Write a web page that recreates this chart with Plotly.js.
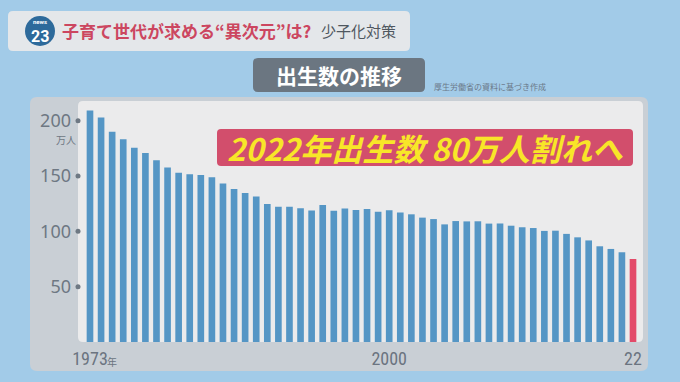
<!DOCTYPE html>
<html>
<head>
<meta charset="utf-8">
<script src="https://cdn.plot.ly/plotly-3.0.1.min.js"></script>
<style>html,body{margin:0;padding:0;background:#a2cbe8;}#chart{width:680px;height:382px;}
.xtick text{font-stretch:condensed;}</style>
</head>
<body>
<div id="chart"></div>
<script>
// ---- data ----
const years = [1973,1974,1975,1976,1977,1978,1979,1980,1981,1982,1983,1984,1985,1986,1987,1988,1989,1990,1991,1992,1993,1994,1995,1996,1997,1998,1999,2000,2001,2002,2003,2004,2005,2006,2007,2008,2009,2010,2011,2012,2013,2014,2015,2016,2017,2018,2019,2020,2021,2022];
const births = [209.2,203.0,190.1,183.3,175.5,170.9,164.3,157.7,152.9,151.5,150.9,149.0,143.2,138.3,134.7,131.4,124.7,122.2,122.3,120.9,118.8,123.8,118.7,120.7,119.2,120.3,117.8,119.1,117.1,115.4,112.4,111.1,106.3,109.3,109.0,109.1,107.0,107.1,105.1,103.7,103.0,100.4,100.6,97.7,94.6,91.8,86.5,84.1,81.1,75.0];
const yTickVals = [50,100,150,200];
const yTickText = ['50','100','150','200'];
const xTickVals = [1973,2000,2022];
const xTickText = ['1973','2000','22'];

// ---- geometry helpers ----
const W = 680, H = 382;
const M = {l:78, r:37, t:101, b:40};
const PW = W - M.l - M.r, PH = H - M.t - M.b;
const px = x => (x - M.l) / PW;
const py = y => (H - M.b - y) / PH;
function rr(x0,y0,x1,y1,r){
  const P=(x,y)=>px(x).toFixed(5)+','+py(y).toFixed(5);
  return 'M'+P(x0+r,y0)+' L'+P(x1-r,y0)+' Q'+P(x1,y0)+' '+P(x1,y0+r)+
    ' L'+P(x1,y1-r)+' Q'+P(x1,y1)+' '+P(x1-r,y1)+
    ' L'+P(x0+r,y1)+' Q'+P(x0,y1)+' '+P(x0,y1-r)+
    ' L'+P(x0,y0+r)+' Q'+P(x0,y0)+' '+P(x0+r,y0)+' Z';
}
function box(x0,y0,x1,y1,r,fill,layer){
  return {type:'path', xref:'paper', yref:'paper', path:rr(x0,y0,x1,y1,r), fillcolor:fill, line:{width:0}, layer:layer||'below'};
}
const JP = 'Noto Sans CJK JP, Noto Sans, sans-serif';
function txt(x,y,text,size,color,opts){
  return Object.assign({xref:'paper', yref:'paper', x:px(x), y:py(y), text:text, showarrow:false,
    font:{size:size, color:color, family:JP}, xanchor:'center', yanchor:'middle'}, opts||{});
}

const xLeft = 1973 - 12/11.09;
const barColors = years.map((y,i)=> i===years.length-1 ? '#e34a69' : '#5596c5');

const traces = [
  {type:'bar', x:years, y:births, marker:{color:barColors, line:{width:0}}, hoverinfo:'x+y'},
  {type:'scatter', mode:'markers', x:yTickVals.map(()=>xLeft), y:yTickVals, cliponaxis:false,
   marker:{size:5, color:'#6e7883'}, hoverinfo:'skip'}
];

const layout = {
  width:W, height:H, margin:M,
  paper_bgcolor:'#a2cbe8', plot_bgcolor:'rgba(0,0,0,0)',
  showlegend:false, bargap:0.4,
  xaxis:{range:[xLeft, 2022 + 10/11.09], tickvals:xTickVals, ticktext:xTickText, showgrid:false, zeroline:false,
    showline:false, ticks:'', ticklabelstandoff:4,
    tickfont:{family:'Liberation Sans Narrow, Roboto Condensed, Roboto, sans-serif', size:18, color:'#6b7480'}},
  yaxis:{range:[0, (H-M.b-M.t)/1.1065], tickvals:yTickVals, ticktext:yTickText, showgrid:false, zeroline:false,
    showline:false, ticks:'', ticklabelstandoff:6,
    tickfont:{family:'Noto Sans, sans-serif', size:18, color:'#6e7883'}},
  shapes:[
    box(30,97,648,371,7,'#c9cfd5'),
    box(78,101,643,342,5,'#ebebec'),
    box(8,11,410,51,5,'#e4e7ea'),
    {type:'circle', xref:'paper', yref:'paper', x0:px(25), x1:px(55), y0:py(46), y1:py(16), fillcolor:'#2d6a9b', line:{width:0}, layer:'below'},
    box(253,58,425,92,5,'#6b7681'),
    box(217,129,633,166,4,'#d24e6c','above')
  ],
  annotations:[
    txt(40,21,'<b>news</b>',6,'#ffffff',{font:{size:6,color:'#ffffff',family:'Roboto, sans-serif'}}),
    txt(40,36,'<b>23</b>',16,'#ffffff',{font:{size:16,color:'#ffffff',family:'Roboto, sans-serif'}}),
    txt(60,31,'<b>子育て世代が求める“異次元”は?</b>',17,'#cc4660',{xanchor:'left'}),
    txt(319,31,'少子化対策',15,'#4f575f',{xanchor:'left'}),
    txt(339,75,'<b>出生数の推移</b>',21,'#ffffff'),
    txt(432,86,'厚生労働省の資料に基づき作成',8,'#6a7888',{xanchor:'left'}),
    txt(66,139,'万人',10,'#6e7883'),
    txt(425,147,'<b>2022年出生数 80万人割れへ</b>',31,'#f8e628',{font:{size:31,color:'#f8e628',style:'italic',family:JP}}),
    {xref:'x', yref:'paper', x:1973, y:py(361), xshift:22, text:'年', showarrow:false, yanchor:'middle',
     font:{size:10, color:'#6b7480', family:JP}}
  ]
};
Plotly.newPlot('chart', traces, layout, {staticPlot:true, displayModeBar:false});
</script>
</body>
</html>
